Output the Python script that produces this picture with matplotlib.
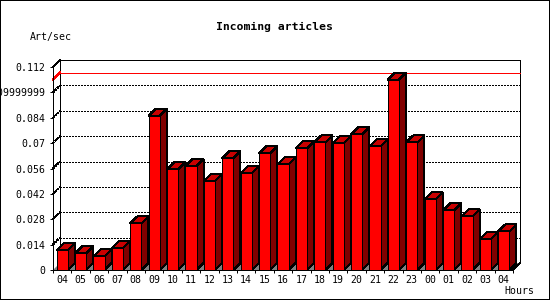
import matplotlib
matplotlib.use('Agg')
import numpy as np
import matplotlib.pyplot as plt
from matplotlib.patches import Polygon, Rectangle
from matplotlib.transforms import ScaledTranslation

hours = ['04', '05', '06', '07', '08', '09', '10', '11', '12', '13', '14', '15', '16',
         '17', '18', '19', '20', '21', '22', '23', '00', '01', '02', '03', '04']
values = [0.0110, 0.0092, 0.0075, 0.0120, 0.0257, 0.0850, 0.0555, 0.0573, 0.0489,
          0.0616, 0.0533, 0.0643, 0.0583, 0.0671, 0.0704, 0.0698, 0.0748, 0.0682,
          0.1051, 0.0704, 0.0390, 0.0329, 0.0296, 0.0169, 0.0213]
ytick_values = [0, 0.014, 0.028, 0.042, 0.056, 0.07, 0.084, 0.098, 0.112]
ytick_labels = ['0', '0.014', '0.028', '0.042', '0.056', '0.07', '0.084', '0.09999999', '0.112']
title = 'Incoming articles'
ylabel = 'Art/sec'
xlabel = 'Hours'

plt.rcParams['font.family'] = ['DejaVu Sans Mono']

W, H, DPI = 550, 300, 100
PX = 72.0 / DPI  # one pixel in points
fig = plt.figure(figsize=(W / DPI, H / DPI), dpi=DPI)
fig.patch.set_facecolor('white')
ax = fig.add_axes([53 / W, 1 - 270 / H, 460 / W, 203 / H])
n = len(hours)
ax.set_xlim(-0.5, n - 0.5)
ax.set_ylim(0, 0.112)
ax.set_facecolor('none')

DEPTH = 7  # pixels of 3D depth
off = ScaledTranslation(DEPTH / DPI, DEPTH / DPI, fig.dpi_scale_trans)
back = ax.transData + off
ax_w_px = 460.0
ax_h_px = 203.0
dx = DEPTH * n / ax_w_px
dy = DEPTH * 0.112 / ax_h_px

# back plane
ax.add_patch(Rectangle((-0.5, 0), n, 0.112, transform=back, facecolor='white',
                       edgecolor='none', clip_on=False, zorder=0))
ax.plot([-0.5, -0.5, n - 0.5, n - 0.5], [0, 0.112, 0.112, 0], transform=back,
        color='black', lw=PX, clip_on=False, zorder=1, antialiased=False)
for v in ytick_values[1:-1]:
    ax.plot([-0.5, n - 0.5], [v, v], transform=back, color='black', lw=PX,
            linestyle=(0, (2, 2)), clip_on=False, zorder=1, antialiased=False)
    ax.plot([-0.5, -0.5 + dx], [v, v + dy], color='black', lw=PX,
            linestyle=(0, (2, 2)), clip_on=False, zorder=1, antialiased=False)
# max line
vmax = max(values)
ax.plot([-0.5, n - 0.5], [vmax, vmax], transform=back, color='#ff0000', lw=PX,
        clip_on=False, zorder=1.5, antialiased=False)
ax.plot([-0.5, -0.5 + dx], [vmax, vmax + dy], color='#ff0000', lw=PX,
        clip_on=False, zorder=1.5, antialiased=False)
ax.plot([-0.5, -0.5 + dx], [0.112, 0.112 + dy], color='black', lw=PX,
        clip_on=False, zorder=1, antialiased=False)
# floor
ax.add_patch(Polygon([(-0.5, 0), (n - 0.5, 0), (n - 0.5 + dx, dy), (-0.5 + dx, dy)],
                     closed=True, facecolor='#808080', edgecolor='none',
                     clip_on=False, zorder=1.8))
ax.plot([n - 0.5, n - 0.5 + dx], [0, dy], color='black', lw=PX,
        clip_on=False, zorder=1.9, antialiased=False)

# bars
bw = 0.6
for i, v in enumerate(values):
    x0 = i - 0.5 + 0.2
    side = Polygon([(x0 + bw, 0), (x0 + bw + dx, dy), (x0 + bw + dx, v + dy), (x0 + bw, v)],
                   closed=True, facecolor='#800000', edgecolor='black', lw=PX,
                   clip_on=False, zorder=2, antialiased=False)
    top = Polygon([(x0, v), (x0 + bw, v), (x0 + bw + dx, v + dy), (x0 + dx, v + dy)],
                  closed=True, facecolor='#c80000', edgecolor='black', lw=PX,
                  clip_on=False, zorder=2, antialiased=False)
    front = Rectangle((x0, 0), bw, v, facecolor='#ff0000', edgecolor='black', lw=PX,
                      clip_on=False, zorder=2.1, antialiased=False)
    ax.add_patch(side)
    ax.add_patch(top)
    ax.add_patch(front)

for s in ['top', 'right']:
    ax.spines[s].set_visible(False)
for s in ['left', 'bottom']:
    ax.spines[s].set_linewidth(PX)
    ax.spines[s].set_color('black')
    ax.spines[s].set_zorder(3)

ax.set_yticks(ytick_values, ytick_labels)
ax.tick_params(axis='y', length=3 * PX, width=PX, pad=3.6, labelsize=7.1, direction='out')
ax.set_xticks(np.arange(n), hours)
ax.set_xticks(np.arange(-0.5, n), minor=True)
ax.tick_params(axis='x', which='major', length=0, pad=3.9, labelsize=7.1)
ax.tick_params(axis='x', which='minor', length=3 * PX, width=PX, direction='out')

fig.text(274 / W, 1 - 27 / H, title, ha='center', va='center', fontsize=8.2,
         fontweight='bold')
fig.text(30 / W, 1 - 37 / H, ylabel, ha='left', va='center', fontsize=7.1)
fig.text(534 / W, 1 - 291.5 / H, xlabel, ha='right', va='center', fontsize=7.1)

fig.patches.append(Rectangle((0, 0), 1, 1, transform=fig.transFigure, fill=False,
                             edgecolor='black', lw=2 * PX, antialiased=False))

fig.savefig('out.png', dpi=DPI)
